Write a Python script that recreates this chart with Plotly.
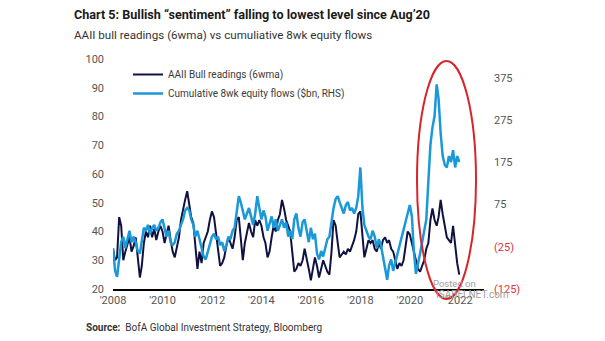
import plotly.graph_objects as go
import pandas as pd

dates = pd.date_range("2008-01-01", "2022-01-01", freq="MS")

# AAII bull readings (6wma), %
aaii = [
    34, 30, 31, 45, 42, 30, 33, 36, 38, 33, 35, 38,
    32, 24, 28, 36, 40, 38, 42, 38, 41, 37, 40, 42,
    40, 36, 39, 42, 37, 33, 31, 34, 38, 44, 48, 51,
    54, 50, 45, 43, 34, 27, 33, 29, 36, 38, 40, 44,
    47, 45, 40, 35, 28, 29, 31, 35, 38, 36, 34, 38,
    44, 45, 38, 30, 36, 40, 43, 40, 38, 44, 42, 44,
    42, 38, 36, 31, 33, 38, 42, 40, 44, 46, 51, 48,
    44, 42, 40, 33, 26, 27, 29, 28, 30, 34, 31, 27,
    23, 27, 31, 28, 24, 27, 30, 28, 26, 25, 33, 44,
    42, 36, 31, 32, 33, 32, 34, 33, 35, 37, 40, 46,
    47, 38, 31, 34, 37, 36, 37, 34, 33, 36, 34, 37,
    38, 36, 37, 34, 33, 30, 27, 29, 28, 30, 36, 40,
    39, 36, 34, 30, 27, 26, 28, 30, 34, 36, 44, 48,
    44, 42, 45, 51, 46, 42, 38, 37, 36, 42, 34, 29,
    25,
]

# Cumulative 8wk equity flows, $bn (RHS)
flows = [
    -28, -82, -96, -55, -14, -1, -28, -7, 13, -14, -1, -14,
    -35, -41, -14, 20, 13, 27, 6, 20, 27, 13, 20, 33,
    40, 20, -1, 13, -14, -21, -14, 6, 13, 27, 40, 61,
    67, 61, 40, 27, -1, 13, -7, -28, -48, -55, -35, -21,
    -1, 6, -7, -1, -21, -14, -35, -21, -1, -7, 13, 20,
    61, 95, 81, 61, 40, 54, 67, 47, 27, 54, 95, 67,
    40, 61, 47, 13, 33, 47, 20, 40, 13, 27, 40, 20,
    33, -1, 13, -7, 40, 54, 20, -1, 33, 40, 13, -14,
    20, -7, 6, -41, -55, -35, -48, -28, -7, -1, 33, 67,
    88, 95, 81, 67, 54, 74, 81, 61, 67, 54, 67, 95,
    163, 67, 27, 13, -1, -7, 13, -1, -28, -7, -21, -48,
    -75, -103, -69, -55, -82, -62, -48, -28, -7, 13, 33, 54,
    74, 47, -35, -89, -69, -41, -14, 13, 40, 129, 217, 258,
    285, 360, 326, 244, 190, 169, 163, 190, 176, 204, 163, 190,
    176,
]

year_ticks = ["2008-01-01", "2010-01-01", "2012-01-01", "2014-01-01",
              "2016-01-01", "2018-01-01", "2020-01-01", "2022-01-01"]
year_labels = ["'2008", "'2010", "'2012", "'2014", "'2016", "'2018", "'2020", "'2022"]
left_ticks = [20, 30, 40, 50, 60, 70, 80, 90, 100]
right_ticks = [-125, -25, 75, 175, 275, 375]
right_labels = ["<span style='color:#e0333a'>(125)</span>",
                "<span style='color:#e0333a'>(25)</span>",
                "75", "175", "275", "375"]

NAVY = "#0f1240"
BLUE = "#1b98d8"
FONT = "Roboto, sans-serif"

# plot area in pixels
PL, PR, PT, PB = 113, 484, 59, 289


def px(xp):
    return (xp - PL) / (PR - PL)


def py(yp):
    return (PB - yp) / (PB - PT)


fig = go.Figure()
fig.add_trace(go.Scatter(x=dates, y=flows, mode="lines", yaxis="y2",
                         name="Cumulative 8wk equity flows ($bn, RHS)",
                         line=dict(color=BLUE, width=2.5)))
fig.add_trace(go.Scatter(x=dates, y=aaii, mode="lines", name="AAII Bull readings (6wma)",
                         line=dict(color=NAVY, width=2)))

fig.update_layout(
    width=605, height=341,
    margin=dict(l=PL, r=605 - PR, t=PT, b=341 - PB),
    paper_bgcolor="white", plot_bgcolor="white",
    font=dict(family=FONT, size=11, color="#3a3a3a"),
    showlegend=True,
    legend=dict(x=px(128), y=py(60), xanchor="left", yanchor="top", bgcolor="rgba(0,0,0,0)",
                font=dict(size=10, color="#3a3a3a"), traceorder="reversed",
                itemwidth=30, tracegroupgap=6),
    xaxis=dict(type="date", range=["2008-01-01", "2023-01-01"], tickvals=year_ticks,
               ticktext=year_labels, showgrid=False, zeroline=False, showline=True,
               linecolor="black", linewidth=2, ticks="", tickfont=dict(size=11, color="#555")),
    yaxis=dict(range=[20, 100], tickvals=left_ticks, showgrid=False, zeroline=False,
               showline=False, ticks="", tickfont=dict(size=11, color="#555"), ticklabelstandoff=8),
    yaxis2=dict(range=[-125, 420], tickvals=right_ticks, ticktext=right_labels, overlaying="y",
                side="right", showgrid=False, zeroline=False, showline=False, ticks="",
                tickfont=dict(size=11, color="#555"), ticklabelstandoff=9),
)

anns = [
    dict(text="<b>Chart 5: Bullish \u201csentiment\u201d falling to lowest level since Aug\u201920</b>",
         x=72, y=14, size=12.6, color="#1a1a1a"),
    dict(text="AAII bull readings (6wma) vs cumuliative 8wk equity flows",
         x=72, y=35, size=11.6, color="#333"),
    dict(text="<b>Source:</b>  BofA Global Investment Strategy, Bloomberg",
         x=84, y=327, size=10, color="#333"),
]
for a in anns:
    fig.add_annotation(text=a["text"], x=px(a["x"]), y=py(a["y"]),
                       xref="paper", yref="paper", xanchor="left", yanchor="middle",
                       showarrow=False, font=dict(size=a["size"], color=a["color"], family=FONT))

# watermark
fig.add_annotation(text="Posted on", x=px(431), y=py(283), xref="paper",
                   yref="paper", xanchor="left", yanchor="middle", showarrow=False,
                   font=dict(size=9.5, color="#a0a0a0", family=FONT))
fig.add_annotation(text="ISABELNET.com", x=px(434), y=py(294), xref="paper",
                   yref="paper", xanchor="left", yanchor="middle", showarrow=False,
                   font=dict(size=10, color="#a0a0a0", family=FONT))

# red ellipse highlight
fig.add_shape(type="circle", xref="paper", yref="paper",
              x0=px(417), x1=px(476), y0=py(299), y1=py(61),
              line=dict(color="#d7252c", width=2))

fig.write_html("out.html")
